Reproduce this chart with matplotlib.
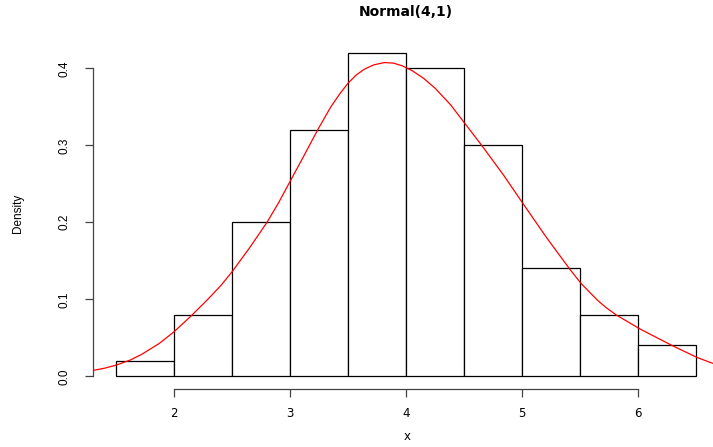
import matplotlib
matplotlib.use('Agg')
import matplotlib.pyplot as plt

plt.rcParams['font.family'] = ['Liberation Sans', 'DejaVu Sans']

# histogram (density scale)
breaks = [1.5, 2.0, 2.5, 3.0, 3.5, 4.0, 4.5, 5.0, 5.5, 6.0, 6.5]
density = [0.02, 0.08, 0.20, 0.32, 0.42, 0.40, 0.30, 0.14, 0.08, 0.04]

# red density curve
curve_x = [1.29, 1.40, 1.50, 1.62, 1.72, 1.87, 2.00, 2.15, 2.29, 2.40, 2.50, 2.65,
           2.80, 2.90, 3.00, 3.12, 3.24, 3.35, 3.43, 3.50, 3.57, 3.64, 3.72, 3.81,
           3.89, 3.97, 4.05, 4.15, 4.25, 4.38, 4.51, 4.65, 4.84, 5.01, 5.21, 5.41,
           5.51, 5.65, 5.72, 5.81, 6.02, 6.30, 6.51, 6.64, 6.70]
curve_y = [0.0073, 0.0105, 0.0145, 0.021, 0.0285, 0.0425, 0.058, 0.079, 0.100, 0.1175, 0.136, 0.167,
           0.200, 0.2255, 0.2535, 0.287, 0.321, 0.350, 0.3675, 0.381, 0.3915, 0.399, 0.4045, 0.4075,
           0.4068, 0.403, 0.397, 0.387, 0.374, 0.353, 0.3275, 0.300, 0.261, 0.2235, 0.180, 0.139,
           0.120, 0.0985, 0.0895, 0.0796, 0.061, 0.0393, 0.0242, 0.0169, 0.0142]

yticks = [0.0, 0.1, 0.2, 0.3, 0.4]
ytick_labels = ['0.0', '0.1', '0.2', '0.3', '0.4']
xticks = [2, 3, 4, 5, 6]

fig = plt.figure(figsize=(7.13, 4.47), dpi=100)
ax = fig.add_axes([93 / 713, 1 - 389.2 / 447, 626.5 / 713, 349.2 / 447])

lefts = breaks[:-1]
widths = [b - a for a, b in zip(breaks[:-1], breaks[1:])]
ax.bar(lefts, density, width=widths, align='edge', color='white',
       edgecolor='black', linewidth=0.9)
ax.plot(curve_x, curve_y, color='red', linewidth=0.9)

ax.set_xlim(1.3, 6.7)
ax.set_ylim(-0.0168, 0.4368)

for s in ['top', 'right']:
    ax.spines[s].set_visible(False)
ax.spines['left'].set_bounds(0, 0.4)
ax.spines['bottom'].set_bounds(2, 6)
for s in ['left', 'bottom']:
    ax.spines[s].set_color('#444444')
    ax.spines[s].set_linewidth(0.9)

ax.set_xticks(xticks)
ax.set_xticklabels([str(t) for t in xticks], fontsize=8.5, family='DejaVu Sans')
ax.set_yticks(yticks)
ax.set_yticklabels(ytick_labels, fontsize=8.5, rotation=90, va='center')
ax.tick_params(axis='both', direction='out', length=5.5, width=0.9, color='#444444')
ax.tick_params(axis='y', pad=11)
ax.tick_params(axis='x', pad=7)

fig.text(406 / 713, 1 - 12.5 / 447, 'Normal(4,1)', ha='center', va='center',
         fontsize=10, fontweight='bold', family='DejaVu Sans')
fig.text(407 / 713, 1 - 437 / 447, 'x', ha='center', va='center', fontsize=8.5,
         family='DejaVu Sans')
fig.text(18 / 713, 1 - 213 / 447, 'Density', ha='center', va='center',
         fontsize=8.5, rotation=90)

fig.savefig('out.png', dpi=100)
